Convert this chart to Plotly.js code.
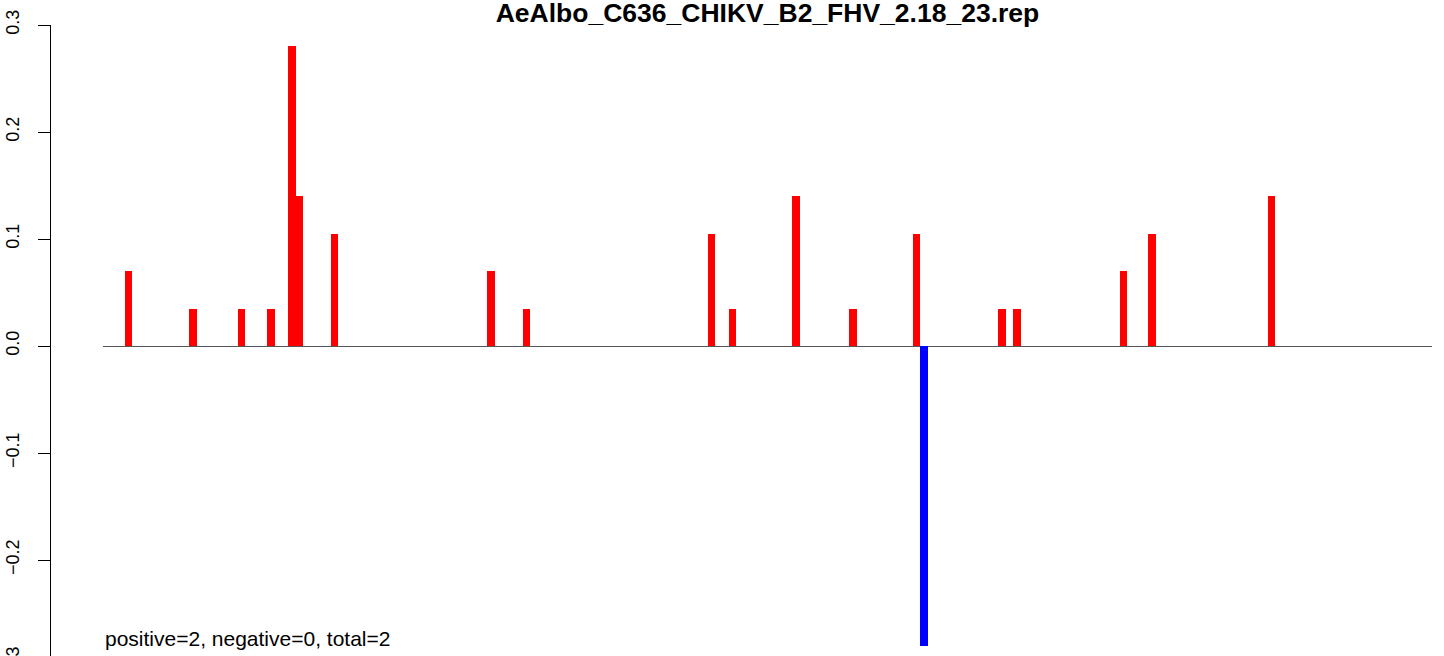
<!DOCTYPE html>
<html>
<head>
<meta charset="utf-8">
<script src="https://cdn.plot.ly/plotly-3.0.1.min.js"></script>
<style>
  html, body { margin: 0; padding: 0; background: #fff; overflow: hidden; }
  #wrap { width: 1444px; height: 656px; overflow: hidden; position: relative; }
  #chart { width: 1444px; height: 700px; }
</style>
</head>
<body>
<div id="wrap"><div id="chart"></div></div>
<script>
// Positions along the sequence and their values
const positions = [27, 95, 146, 177, 199, 207, 244, 409, 446, 641, 663, 730, 790, 857, 865, 947, 963, 1075, 1105, 1231];
const values    = [0.07, 0.035, 0.035, 0.035, 0.28, 0.14, 0.105, 0.07, 0.035, 0.105, 0.035, 0.14, 0.035, 0.105, -0.28, 0.035, 0.035, 0.07, 0.105, 0.14];
const yTickVals  = [-0.3, -0.2, -0.1, 0.0, 0.1, 0.2, 0.3];
const yTickText  = ["\u22120.3", "\u22120.2", "\u22120.1", "0.0", "0.1", "0.2", "0.3"];
const chartTitle = "AeAlbo_C636_CHIKV_B2_FHV_2.18_23.rep";
const footText   = "positive=2, negative=0, total=2";

const FONT = "Liberation Sans, Arial, Helvetica, sans-serif";
const W = 1444, H = 700;
const ml = 50, mr = 12, mt = 25, mb = H - 667;
const paperW = W - ml - mr;
const paperH = H - mt - mb;

const colors = values.map(v => v >= 0 ? "#FF0000" : "#0000FF");

const trace = {
  type: "bar",
  x: positions,
  y: values,
  width: 8,
  marker: { color: colors, line: { width: 0 } },
  hoverinfo: "x+y",
  showlegend: false
};

const layout = {
  width: W, height: H,
  margin: { l: ml, r: mr, t: mt, b: mb, pad: 0 },
  paper_bgcolor: "#fff",
  plot_bgcolor: "#fff",
  font: { family: FONT, color: "#000" },
  title: {
    text: chartTitle,
    font: { family: FONT, size: 26.5, weight: "bold", color: "#000" },
    xref: "container", x: 767.5 / W, xanchor: "center",
    yref: "container", y: 1 - 13 / H, yanchor: "middle"
  },
  bargap: 0,
  xaxis: {
    domain: [(103 - ml) / paperW, 1],
    range: [0, 1400],
    visible: false,
    fixedrange: true
  },
  yaxis: {
    range: [-0.3, 0.3],
    anchor: "free", position: 0,
    showline: true, linecolor: "#000", linewidth: 1,
    ticks: "outside", ticklen: 12, tickwidth: 1, tickcolor: "#000",
    tickmode: "array", tickvals: yTickVals, ticktext: yTickText,
    tickangle: -90,
    ticklabelstandoff: 12,
    ticklabeloverflow: "allow",
    tickfont: { family: FONT, size: 18, color: "#000" },
    showgrid: false,
    zeroline: true, zerolinecolor: "#555", zerolinewidth: 1,
    fixedrange: true
  },
  annotations: [{
    text: footText,
    xref: "paper", yref: "paper",
    x: (103 - ml) / paperW, xanchor: "left",
    y: (mt + paperH - 638) / paperH, yanchor: "middle",
    showarrow: false,
    font: { family: FONT, size: 21, color: "#000" }
  }]
};

Plotly.newPlot("chart", [trace], layout, { displayModeBar: false, staticPlot: true });
</script>
</body>
</html>
